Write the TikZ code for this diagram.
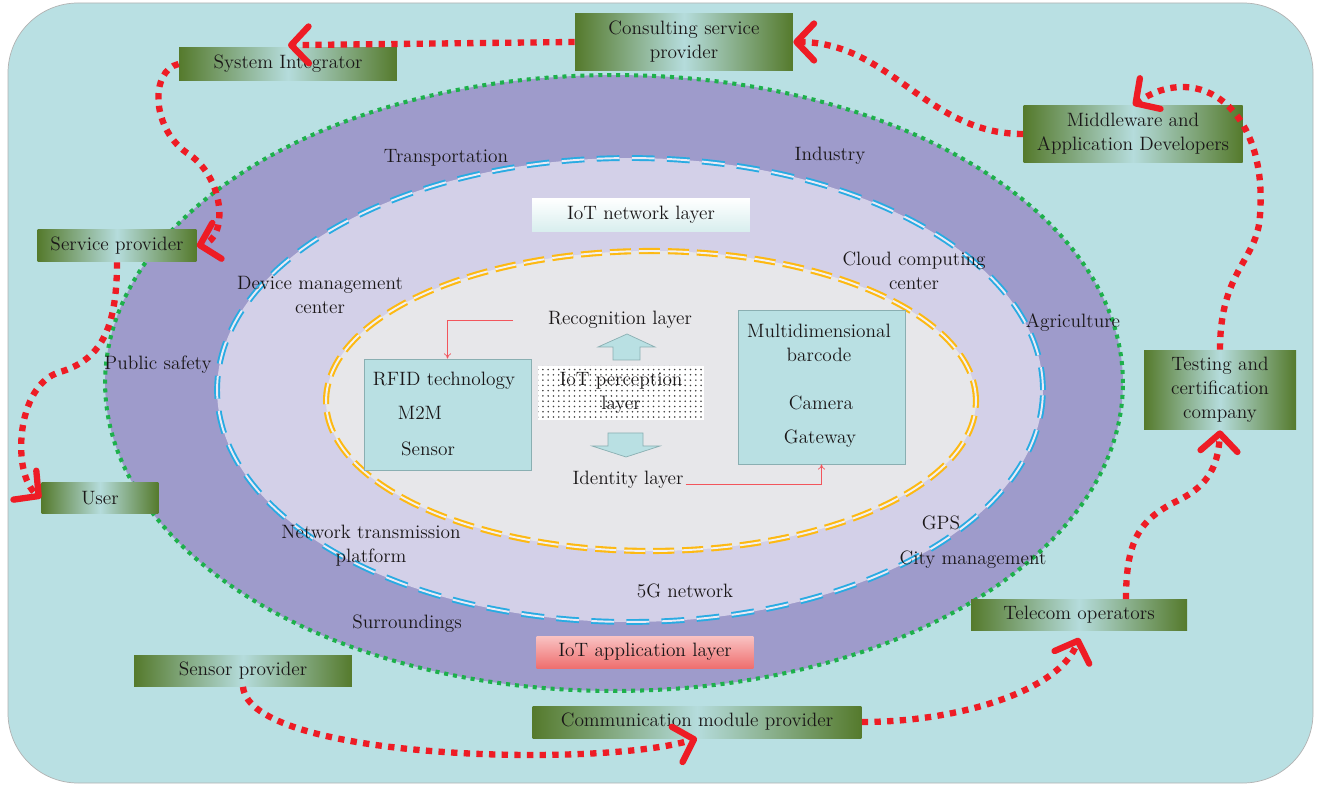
\documentclass[tikz,border=0pt]{standalone}
\usepackage{tikz}
\usetikzlibrary{positioning,calc,patterns,arrows.meta}

\definecolor{bgcyan}{HTML}{B9E0E3}
\definecolor{ringpurple}{HTML}{9E9BCB}
\definecolor{ringlav}{HTML}{D3D0E8}
\definecolor{coregrey}{HTML}{E7E7EA}
\definecolor{dotgreen}{HTML}{1DB04B}
\definecolor{dashblue}{HTML}{29ABE2}
\definecolor{dashorange}{HTML}{FDB913}
\definecolor{oliv}{HTML}{557A2C}
\definecolor{paleteal}{HTML}{B5DCDC}
\definecolor{flowred}{HTML}{EE1C25}
\definecolor{boxedge}{HTML}{8AAFB2}
\definecolor{netbot}{HTML}{D8EEEE}
\definecolor{pinktop}{HTML}{F9C3C3}
\definecolor{pinkbot}{HTML}{EF6F6F}
\definecolor{inkgrey}{HTML}{1A1718}

\begin{document}
\begin{tikzpicture}[x=0.02cm,y=-0.02cm,font=\fontsize{11}{13.6}\selectfont,text=inkgrey]
\tikzstyle{actor}=[rectangle, left color=oliv, right color=oliv, middle color=paleteal, align=center, inner sep=0pt]
\tikzstyle{tech}=[rectangle, draw=boxedge, fill=bgcyan, inner sep=0pt]
\tikzstyle{lbl}=[align=center, inner sep=1pt]
\tikzstyle{block}=[draw=boxedge, fill=bgcyan]
\tikzstyle{flow}=[flowred, line width=3.6pt, dash pattern=on 3.6pt off 3.6pt, -{Straight Barb[length=10pt,width=21pt,round]}]
\tikzstyle{link}=[flowred!75, thin, -{To[length=3pt,width=4pt]}]

	\fill[white] (0,0) rectangle (1317,786);
	\draw[fill=bgcyan, draw=gray!60, rounded corners=1.4cm] (8,3) rectangle (1313,783);
	\useasboundingbox (0,0) rectangle (1317,786);

	\draw[fill=ringpurple, draw=dotgreen, line width=2.3pt, dash pattern=on 2.3pt off 2.8pt] (614,383) ellipse [x radius=10.18cm, y radius=6.16cm];
	\draw[fill=ringlav, draw=dashblue, line width=1.1pt, double=white!55!ringlav, double distance=1.1pt, dash pattern=on 13pt off 7pt] (630,390) ellipse [x radius=8.26cm, y radius=4.64cm];
	\draw[fill=coregrey, draw=dashorange, line width=1.2pt, double=white!40!coregrey, double distance=1.1pt, dash pattern=on 12pt off 4.5pt] (651,401) ellipse [x radius=6.5cm, y radius=3cm];

	\node[actor, minimum width=4.36cm, minimum height=0.66cm] (si) at (288,64) {System Integrator};
	\node[actor, minimum width=4.36cm, minimum height=1.14cm] (csp) at (684,42) {Consulting service\\provider};
	\node[actor, minimum width=4.38cm, minimum height=1.14cm] (mad) at (1133,134) {Middleware and\\Application Developers};
	\node[actor, minimum width=3.18cm, minimum height=0.64cm] (sp) at (117,246) {Service provider};
	\node[actor, minimum width=2.34cm, minimum height=0.64cm] (usr) at (100,498) {User};
	\node[actor, minimum width=3.04cm, minimum height=1.6cm] (tcc) at (1220,390) {Testing and\\certification\\company};
	\node[actor, minimum width=4.32cm, minimum height=0.62cm] (tel) at (1079,615) {Telecom operators};
	\node[actor, minimum width=4.36cm, minimum height=0.62cm] (snp) at (243,671) {Sensor provider};
	\node[actor, minimum width=6.58cm, minimum height=0.64cm] (cmp) at (697,722) {Communication module provider};

	\node[rectangle, top color=white, bottom color=netbot, minimum width=4.36cm, minimum height=0.66cm] (netl) at (641,215) {IoT network layer};
	\node[rectangle, top color=pinktop, bottom color=pinkbot, minimum width=4.34cm, minimum height=0.64cm] (appl) at (645,652) {IoT application layer};
	\node[rectangle, preaction={fill=white}, pattern=dots, pattern color=black!75, minimum width=3.32cm, minimum height=1.1cm, align=center, inner sep=0pt] (perc) at (621,393) {IoT perception\\layer};

	\node[tech, minimum width=3.34cm, minimum height=2.22cm] (rfid) at (447.5,414.5) {};
	\node[lbl] (rfidt) at (444,381) {RFID technology};
	\node[lbl] (m2m) at (420,413) {M2M};
	\node[lbl] (sens) at (428,449) {Sensor};
	\node[tech, minimum width=3.34cm, minimum height=3.08cm] (mdb) at (821.5,387) {};
	\node[lbl] (mdbt) at (819,343) {Multidimensional\\barcode};
	\node[lbl] (cam) at (821,403) {Camera};
	\node[lbl] (gw) at (820,439) {Gateway};

	\draw[block] (613,360) -- (613,347) -- (598,347) -- (627,334) -- (655,347) -- (640,347) -- (640,360) -- cycle;
	\draw[block] (608,433) -- (643,433) -- (643,446) -- (660,446) -- (626,457) -- (592,446) -- (608,446) -- cycle;

	\node[lbl] (rec) at (620,320) {Recognition layer};
	\node[lbl] (idl) at (628,480) {Identity layer};
	\node[lbl] (trans) at (446,158) {Transportation};
	\node[lbl] (indus) at (830,156) {Industry};
	\node[lbl] (dmc) at (320,295) {Device management\\center};
	\node[lbl] (ccc) at (914,271) {Cloud computing\\center};
	\node[lbl] (agri) at (1073,323) {Agriculture};
	\node[lbl] (pubs) at (158,365) {Public safety};
	\node[lbl] (ntp) at (371,546) {Network transmission\\platform};
	\node[lbl] (gps) at (941,523) {GPS};
	\node[lbl] (citym) at (973,560) {City management};
	\node[lbl] (fiveg) at (685,591) {5G network};
	\node[lbl] (surr) at (407,624) {Surroundings};

	\draw[link] ([xshift=-0.66cm]rec.west) -| (rfid.north);
	\draw[link] (idl.base east) -| (mdb.south);

	\path
	 (csp.west) edge[flow] ([yshift=0.04cm]si.north)
	 (mad.west) edge[flow, out=180, in=0] (csp.east);
	\draw[flow] (tcc.north) .. controls (1220,270) and (1258,260) .. (1260,215) .. controls (1268,110) and (1200,60) .. (mad.north);
	\draw[flow] (si.west) .. controls (150,70) and (150,130) .. (190,155) .. controls (225,180) and (228,238) .. (sp.east);
	\draw[flow] (sp.south) .. controls (117,330) and (100,360) .. (60,372) .. controls (15,385) and (12,475) .. (usr.west);
	\draw[flow] (snp.south) .. controls (250,760) and (600,768) .. (cmp.south);
	\draw[flow] (cmp.east) .. controls (960,722) and (1060,690) .. ([yshift=-0.14cm]tel.south);
	\draw[flow] ([xshift=0.94cm]tel.north) .. controls (1126,540) and (1140,520) .. (1175,502) .. controls (1205,488) and (1218,470) .. (tcc.south);

\end{tikzpicture}
\end{document}
